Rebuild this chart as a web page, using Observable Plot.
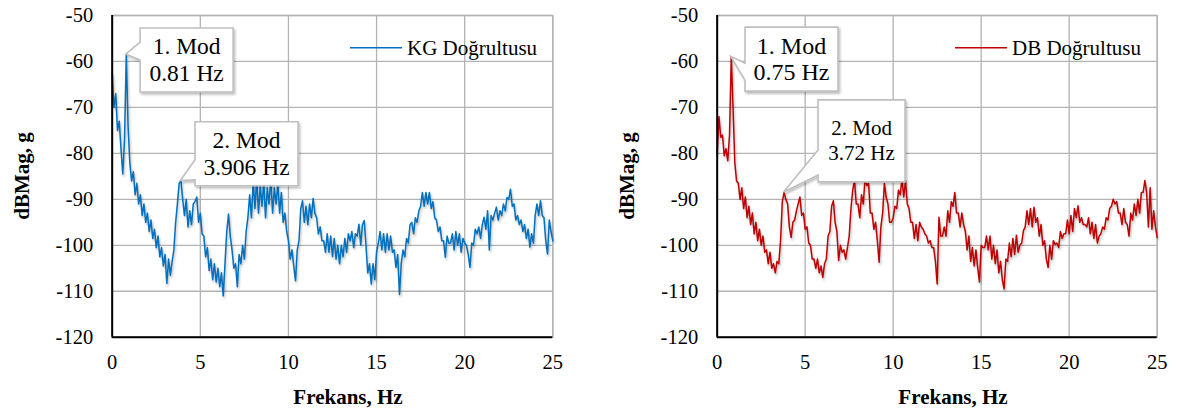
<!DOCTYPE html>
<html><head><meta charset="utf-8">
<script src="https://cdn.jsdelivr.net/npm/d3@7"></script>
<script src="https://cdn.jsdelivr.net/npm/@observablehq/plot@0.6"></script>
<style>
body{margin:0;background:#fff;}
#wrap{position:relative;width:1177px;height:410px;overflow:hidden;}
</style></head><body><div id="wrap"></div>
<script>
// Frequency grid (Hz), 0.1 Hz step from 0 to 25
const freqs = d3.range(0, 251).map(i => i / 10);

// KG Doğrultusu (dBMag, g)
const kgValues = [
  -62.5,-70,-67,-75,-73,-79,-84.5,-77,-58.5,-74,
  -82,-86,-84,-89,-86.5,-91,-89,-93.5,-91,-95,
  -93,-97,-94.5,-98.5,-96.5,-100.5,-98,-102.5,-100.5,-104.5,
  -102,-108.3,-103,-106.5,-103.5,-101,-95,-91,-86.5,-86,
  -90,-93.5,-90,-96,-92.5,-95.5,-91,-90.5,-89.5,-95,
  -93,-97.5,-98,-102.5,-100.5,-105.5,-103,-107.5,-104,-108,
  -105,-109,-106,-111,-104,-97,-93.2,-98,-101,-105,
  -104,-109,-102,-104,-100,-103,-97,-94,-89,-94,
  -86,-92,-85.5,-93,-87,-91.5,-86,-94,-87.5,-91,
  -85.5,-93,-87.5,-91,-86.5,-93,-88.5,-95,-93,-97,
  -99,-103,-101,-104.5,-107.7,-101,-99,-92,-90.3,-95,
  -91.5,-95.5,-91,-94,-89.8,-93,-94,-97.5,-96,-99,
  -99,-101.5,-97.5,-101.5,-98,-102.5,-98.5,-103,-100,-104,
  -100,-102.5,-98.5,-101.5,-97.5,-99,-97,-100.5,-97.5,-98,
  -95.4,-100,-95.5,-94.6,-100,-106,-104,-108.4,-104,-107.5,
  -101.5,-99.5,-97,-101,-97.5,-101.5,-97.5,-101,-98,-101.5,
  -101,-104.8,-102,-110.7,-104,-101,-102.5,-98.5,-99.5,-95.5,
  -95,-97.5,-94,-95,-92.5,-91.5,-88.5,-91.5,-88.5,-91,
  -88.5,-92,-90.5,-94,-94.5,-97,-96,-99,-99,-102.6,
  -98,-99.5,-99.5,-97.5,-101,-97,-100,-97.5,-101.5,-98.5,
  -99.5,-100,-102,-104.8,-99.5,-100,-96.5,-97.5,-96,-98.5,
  -95.5,-93.9,-96.5,-92.5,-101,-93.5,-94.5,-93,-91.7,-94.5,
  -92.5,-93.5,-91,-92.5,-89.6,-90,-87.8,-91.5,-91,-94.5,
  -93.5,-95.5,-94.5,-97,-95.5,-98.5,-96.5,-100.4,-97.5,-99.5,
  -93.5,-91,-93.5,-90.3,-93.5,-94,-99,-101.9,-94.5,-97,
  -99
];

// DB Doğrultusu (dBMag, g)
const dbValues = [
  -80,-72,-76.5,-76,-80.5,-79,-81.6,-76,-59,-70,
  -82,-86,-86.5,-90,-87.5,-92,-89.5,-94,-91.5,-95.5,
  -93,-97.5,-95,-99,-96.5,-100,-98,-101.5,-101,-104,
  -101.5,-105,-104,-106,-103.5,-104,-99,-90.5,-88.5,-90,
  -91,-96,-98.3,-95,-94.5,-92.5,-91,-89.5,-93.5,-93,
  -96.5,-96,-99.5,-100,-103,-103,-105,-103,-106,-104.5,
  -107,-104,-103,-98,-97,-91.5,-90.3,-95,-97,-103.3,
  -100,-101.5,-101,-103,-100.5,-98,-92,-88,-85.8,-91,
  -91,-94,-89,-91,-85.5,-87,-86.5,-93,-93,-96.5,
  -95,-99,-103.7,-96,-93,-86.5,-89.5,-91,-95,-95,
  -94,-91.5,-92,-88,-89,-85.5,-89.5,-85.9,-91,-92,
  -95,-95,-98.5,-95.5,-99,-95,-96,-96.5,-97.5,-98,
  -99.5,-99,-100.5,-100.5,-103.5,-108.4,-93.9,-98,-98,-96,
  -98,-92.5,-95,-90.5,-91.5,-88.5,-93,-93,-96,-93,
  -95.5,-97,-101,-98,-103.5,-100.5,-104.5,-101,-104.8,-108,
  -100,-100.5,-100.5,-98,-101,-98,-103,-100,-104,-101,
  -106,-103.5,-107.5,-109.5,-103,-103.5,-99.5,-102.5,-98.5,-102,
  -97.8,-101.5,-100,-99.5,-96.8,-96,-92.5,-95.5,-92,-96,
  -91.7,-95,-94,-98,-95.5,-100,-99,-103,-104.8,-100,
  -103,-99,-99.8,-99.5,-100.5,-97,-98.5,-97.5,-97.5,-94.5,
  -97.5,-93.5,-97,-92,-94,-91.4,-95,-94,-95.5,-95.5,
  -96,-94,-97.5,-95,-98.5,-95.5,-99.5,-98,-97.5,-96,
  -96.5,-94,-94.5,-92,-91.5,-90,-91,-90.5,-93,-93,
  -95.5,-92,-95,-95.5,-98,-93,-94.5,-91,-93.5,-90,
  -93,-88.5,-88.5,-85.9,-88.5,-96,-87.5,-96.5,-92.5,-96,
  -98.3
];

const xTicks = [0, 5, 10, 15, 20, 25];
const yTicks = [-120, -110, -100, -90, -80, -70, -60, -50];

// Mode annotations: peak location, label lines, label box centre (data units)
const kgModeFreq = [0.8, 3.9];
const kgModeVal = [-58.5, -86];
const kgModeText = [["1. Mod", "0.81 Hz"], ["2. Mod", "3.906 Hz"]];
const kgBoxFreq = [4.25, 7.65];
const kgBoxVal = [-59.8, -80.2];

const dbModeFreq = [0.8, 3.8];
const dbModeVal = [-59, -88.5];
const dbModeText = [["1. Mod", "0.75 Hz"], ["2. Mod", "3.72 Hz"]];
const dbBoxFreq = [4.25, 8.23];
const dbBoxVal = [-59.6, -77.4];

const FONT = "'Liberation Serif', 'Times New Roman', serif";

function drawPanel(cfg) {
  const data = cfg.values.map((v, i) => ({f: freqs[i], v}));
  const grid = {stroke: "#b3b3b3", strokeOpacity: 1, strokeWidth: 1.3};
  const chart = Plot.plot({
    width: cfg.width, height: 410,
    marginLeft: 111.7, marginRight: cfg.mr, marginTop: 15, marginBottom: 73.3,
    style: {fontFamily: FONT, fontSize: "20.5px", color: "#000", background: "transparent", overflow: "visible"},
    x: {domain: [0, 25], label: null},
    y: {domain: [-120, -50], label: null},
    marks: [
      Plot.gridX(xTicks, grid),
      Plot.gridY(yTicks, grid),
      Plot.frame({stroke: "#b3b3b3", strokeWidth: 1.3}),
      Plot.line(data, {x: "f", y: "v", stroke: cfg.color, strokeWidth: 1.5}),
      Plot.ruleX([0], {stroke: "#000", strokeWidth: 2}),
      Plot.ruleY([-120], {stroke: "#000", strokeWidth: 2}),
      Plot.axisX(xTicks, {tickSize: 0, tickPadding: 17, tickFormat: d => String(d), fontSize: 20.5, label: null}),
      Plot.axisY(yTicks, {tickSize: 0, tickPadding: 19, tickFormat: d => String(d), fontSize: 20.5, label: null})
    ]
  });
  chart.style.position = "absolute";
  chart.style.left = cfg.left + "px";
  chart.style.top = "0px";
  const svg = d3.select(chart);
  svg.selectAll('g[aria-label="line"] path')
    .style("filter", "drop-shadow(1px 2px 1.2px rgba(0,0,0,0.28))");

  const xs = chart.scale("x"), ys = chart.scale("y");

  // axis titles
  svg.append("text").attr("x", 348).attr("y", 404)
    .attr("text-anchor", "middle").attr("font-weight", "bold").attr("font-size", 21)
    .attr("font-family", FONT).text("Frekans, Hz");
  svg.append("text").attr("transform", "translate(28.5,176) rotate(-90)")
    .attr("text-anchor", "middle").attr("font-weight", "bold").attr("font-size", 21)
    .attr("font-family", FONT).text("dBMag, g");

  // legend
  svg.append("line").attr("x1", 350).attr("x2", 402).attr("y1", 47.7).attr("y2", 47.7)
    .attr("stroke", cfg.color).attr("stroke-width", 1.6);
  svg.append("text").attr("x", 407).attr("y", 54.5).attr("font-size", 21)
    .attr("text-anchor", "start").attr("font-family", FONT).text(cfg.legend);

  // callouts
  const defs = svg.append("defs");
  defs.append("filter").attr("id", "sh" + cfg.id).attr("x", "-20%").attr("y", "-20%")
    .attr("width", "150%").attr("height", "150%")
    .append("feDropShadow").attr("dx", 1.5).attr("dy", 2).attr("stdDeviation", 1.2)
    .attr("flood-color", "#000").attr("flood-opacity", 0.25);
  cfg.modeFreq.forEach((f, i) => {
    const b = cfg.boxes[i];
    const cx = xs.apply(cfg.boxFreq[i]), cy = ys.apply(cfg.boxVal[i]);
    const L = cx - b.w / 2, R = cx + b.w / 2, T = cy - b.h / 2, B = cy + b.h / 2;
    const tx = xs.apply(f), ty = ys.apply(cfg.modeVal[i]);
    const path = `M${L},${T}L${R},${T}L${R},${B}L${L},${B}L${L},${T + b.w2}L${tx},${ty}L${L},${T + b.w1}Z`;
    svg.append("path").attr("d", path).attr("fill", "#fff").attr("stroke", "#bfbfbf")
      .attr("stroke-width", 1.6).attr("filter", `url(#sh${cfg.id})`);
    const lines = cfg.modeText[i];
    lines.forEach((s, j) => {
      svg.append("text").attr("x", cx)
        .attr("y", cy + (j - (lines.length - 1) / 2) * b.lh + 0.33 * b.fs)
        .attr("text-anchor", "middle").attr("font-size", b.fs).attr("font-family", FONT).text(s);
    });
  });

  document.getElementById("wrap").appendChild(chart);
}

drawPanel({
  id: "kg", values: kgValues, color: "#0070C0", legend: "KG Doğrultusu",
  left: 0, width: 590, mr: 37.7,
  modeFreq: kgModeFreq, modeVal: kgModeVal, modeText: kgModeText,
  boxFreq: kgBoxFreq, boxVal: kgBoxVal,
  boxes: [{w: 93, h: 64, fs: 23.5, lh: 26.7, w1: 14, w2: 32},
          {w: 103, h: 64, fs: 23.5, lh: 26.7, w1: 38, w2: 58}]
});
drawPanel({
  id: "db", values: dbValues, color: "#C00000", legend: "DB Doğrultusu",
  left: 605, width: 572, mr: 20.3,
  modeFreq: dbModeFreq, modeVal: dbModeVal, modeText: dbModeText,
  boxFreq: dbBoxFreq, boxVal: dbBoxVal,
  boxes: [{w: 93, h: 64, fs: 24, lh: 26.7, w1: 36, w2: 53},
          {w: 87, h: 82, fs: 21, lh: 25, w1: 50, w2: 75}]
});
</script></body></html>
